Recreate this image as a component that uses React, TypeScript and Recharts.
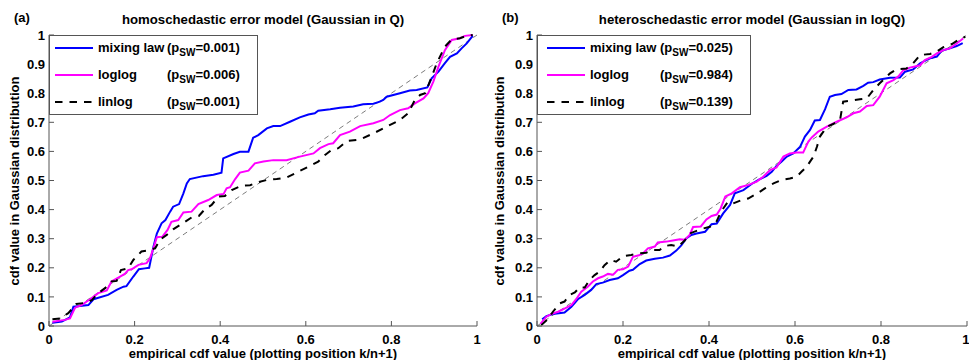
import React from "react";
import { LineChart, Line, XAxis, YAxis, ReferenceLine } from "recharts";

const FONT = '"Liberation Sans", Arial, sans-serif';
const AXIS = "#555";

const X_TICKS = [0, 0.2, 0.4, 0.6, 0.8, 1];
const Y_TICKS = [0, 0.1, 0.2, 0.3, 0.4, 0.5, 0.6, 0.7, 0.8, 0.9, 1];

const SERIES_NAMES = ["mixing law", "loglog", "linlog"];
const P_SW_A = ["0.001", "0.006", "0.001"];
const P_SW_B = ["0.025", "0.984", "0.139"];

// (a) homoschedastic: [empirical cdf, gaussian cdf]
const A_MIXING: [number, number][] = [
  [0.008, 0.011], [0.03, 0.015], [0.049, 0.03], [0.057, 0.066], [0.092, 0.072], [0.104, 0.092],
  [0.138, 0.107], [0.158, 0.124], [0.174, 0.135], [0.181, 0.137], [0.197, 0.17], [0.21, 0.195],
  [0.224, 0.198], [0.234, 0.2], [0.244, 0.272], [0.252, 0.318], [0.263, 0.353], [0.272, 0.364],
  [0.283, 0.393], [0.29, 0.41], [0.304, 0.419], [0.314, 0.456], [0.322, 0.49], [0.329, 0.505],
  [0.36, 0.515], [0.384, 0.52], [0.403, 0.527], [0.407, 0.576], [0.431, 0.591], [0.446, 0.599],
  [0.466, 0.599], [0.477, 0.647], [0.489, 0.656], [0.509, 0.679], [0.524, 0.687], [0.54, 0.687],
  [0.563, 0.702], [0.586, 0.717], [0.606, 0.727], [0.621, 0.731], [0.629, 0.74], [0.657, 0.745],
  [0.68, 0.75], [0.711, 0.754], [0.734, 0.762], [0.758, 0.764], [0.773, 0.771], [0.781, 0.777],
  [0.789, 0.788], [0.82, 0.8], [0.843, 0.809], [0.859, 0.811], [0.884, 0.82], [0.894, 0.851],
  [0.91, 0.874], [0.925, 0.903], [0.937, 0.925], [0.953, 0.937], [0.964, 0.954], [0.976, 0.971],
  [0.99, 0.997],
];
const A_LOGLOG: [number, number][] = [
  [0.008, 0.015], [0.037, 0.021], [0.049, 0.026], [0.061, 0.063], [0.076, 0.072], [0.096, 0.092],
  [0.115, 0.113], [0.135, 0.122], [0.146, 0.153], [0.166, 0.17], [0.177, 0.179], [0.185, 0.192],
  [0.193, 0.195], [0.209, 0.21], [0.228, 0.216], [0.236, 0.233], [0.244, 0.267], [0.252, 0.305],
  [0.265, 0.307], [0.277, 0.33], [0.286, 0.358], [0.302, 0.364], [0.314, 0.39], [0.333, 0.393],
  [0.349, 0.419], [0.372, 0.433], [0.392, 0.45], [0.408, 0.454], [0.415, 0.473], [0.423, 0.477],
  [0.435, 0.505], [0.446, 0.527], [0.466, 0.534], [0.481, 0.559], [0.501, 0.565], [0.524, 0.57],
  [0.555, 0.57], [0.586, 0.582], [0.618, 0.593], [0.633, 0.611], [0.653, 0.625], [0.664, 0.628],
  [0.68, 0.656], [0.703, 0.668], [0.727, 0.687], [0.758, 0.697], [0.781, 0.708], [0.797, 0.725],
  [0.82, 0.742], [0.839, 0.748], [0.855, 0.765], [0.875, 0.782], [0.886, 0.8], [0.898, 0.84],
  [0.91, 0.891], [0.925, 0.948], [0.941, 0.983], [0.96, 0.989], [0.972, 0.997], [0.99, 1.0],
];
const A_LINLOG: [number, number][] = [
  [0.008, 0.023], [0.026, 0.026], [0.045, 0.044], [0.064, 0.076], [0.088, 0.08], [0.1, 0.089],
  [0.115, 0.113], [0.131, 0.13], [0.146, 0.153], [0.158, 0.155], [0.168, 0.192], [0.185, 0.198],
  [0.197, 0.227], [0.216, 0.256], [0.228, 0.259], [0.248, 0.267], [0.259, 0.296], [0.275, 0.313],
  [0.29, 0.332], [0.318, 0.358], [0.333, 0.373], [0.35, 0.378], [0.364, 0.401], [0.38, 0.416],
  [0.396, 0.445], [0.411, 0.447], [0.427, 0.467], [0.45, 0.482], [0.47, 0.484], [0.489, 0.494],
  [0.509, 0.502], [0.532, 0.505], [0.555, 0.51], [0.582, 0.53], [0.61, 0.55], [0.629, 0.565],
  [0.645, 0.588], [0.66, 0.605], [0.676, 0.611], [0.696, 0.636], [0.727, 0.641], [0.758, 0.662],
  [0.789, 0.685], [0.82, 0.708], [0.839, 0.731], [0.855, 0.777], [0.867, 0.794], [0.879, 0.8],
  [0.894, 0.856], [0.906, 0.903], [0.925, 0.96], [0.941, 0.985], [0.96, 0.989], [0.976, 0.997],
  [0.99, 1.0],
];

// (b) heteroschedastic
const B_MIXING: [number, number][] = [
  [0.012, 0.023], [0.022, 0.034], [0.037, 0.041], [0.064, 0.046], [0.08, 0.066], [0.095, 0.092],
  [0.111, 0.107], [0.126, 0.124], [0.138, 0.144], [0.153, 0.149], [0.169, 0.158], [0.188, 0.164],
  [0.2, 0.175], [0.215, 0.19], [0.223, 0.193], [0.239, 0.213], [0.254, 0.225], [0.274, 0.231],
  [0.293, 0.235], [0.309, 0.242], [0.324, 0.259], [0.336, 0.278], [0.347, 0.301], [0.359, 0.313],
  [0.371, 0.318], [0.391, 0.324], [0.406, 0.35], [0.418, 0.352], [0.433, 0.387], [0.449, 0.416],
  [0.46, 0.456], [0.48, 0.467], [0.499, 0.488], [0.515, 0.502], [0.534, 0.516], [0.546, 0.53],
  [0.557, 0.55], [0.569, 0.565], [0.581, 0.582], [0.596, 0.593], [0.612, 0.616], [0.623, 0.651],
  [0.635, 0.674], [0.646, 0.706], [0.658, 0.708], [0.67, 0.745], [0.681, 0.788], [0.693, 0.794],
  [0.708, 0.797], [0.724, 0.811], [0.743, 0.813], [0.759, 0.825], [0.77, 0.836], [0.782, 0.838],
  [0.797, 0.847], [0.821, 0.853], [0.844, 0.854], [0.856, 0.874], [0.875, 0.882], [0.891, 0.903],
  [0.914, 0.92], [0.93, 0.926], [0.941, 0.946], [0.96, 0.954], [0.976, 0.962], [0.99, 0.972],
];
const B_LOGLOG: [number, number][] = [
  [0.008, 0.007], [0.022, 0.032], [0.033, 0.041], [0.049, 0.049], [0.064, 0.06], [0.08, 0.072],
  [0.091, 0.092], [0.103, 0.118], [0.118, 0.135], [0.13, 0.153], [0.142, 0.164], [0.153, 0.17],
  [0.165, 0.179], [0.177, 0.176], [0.188, 0.193], [0.2, 0.195], [0.212, 0.204], [0.223, 0.238],
  [0.237, 0.243], [0.247, 0.25], [0.258, 0.267], [0.274, 0.273], [0.281, 0.287], [0.301, 0.29],
  [0.316, 0.294], [0.332, 0.298], [0.343, 0.296], [0.355, 0.313], [0.363, 0.34], [0.381, 0.342],
  [0.394, 0.366], [0.406, 0.378], [0.418, 0.383], [0.427, 0.404], [0.438, 0.445], [0.453, 0.456],
  [0.472, 0.477], [0.492, 0.485], [0.511, 0.496], [0.526, 0.513], [0.542, 0.536], [0.557, 0.545],
  [0.573, 0.582], [0.588, 0.593], [0.604, 0.596], [0.619, 0.596], [0.631, 0.634], [0.639, 0.648],
  [0.654, 0.668], [0.674, 0.685], [0.697, 0.702], [0.72, 0.717], [0.736, 0.731], [0.751, 0.737],
  [0.767, 0.756], [0.782, 0.759], [0.797, 0.788], [0.813, 0.834], [0.829, 0.845], [0.84, 0.857],
  [0.852, 0.879], [0.867, 0.888], [0.891, 0.896], [0.902, 0.914], [0.918, 0.925], [0.93, 0.937],
  [0.945, 0.948], [0.96, 0.954], [0.976, 0.971], [0.991, 0.988],
];
const B_LINLOG: [number, number][] = [
  [0.01, 0.003], [0.025, 0.023], [0.037, 0.049], [0.053, 0.078], [0.064, 0.084], [0.076, 0.107],
  [0.088, 0.115], [0.099, 0.133], [0.111, 0.132], [0.122, 0.158], [0.134, 0.175], [0.146, 0.187],
  [0.157, 0.209], [0.171, 0.227], [0.184, 0.221], [0.2, 0.24], [0.219, 0.244], [0.237, 0.25],
  [0.254, 0.252], [0.27, 0.261], [0.285, 0.261], [0.297, 0.275], [0.312, 0.278], [0.328, 0.273],
  [0.343, 0.293], [0.355, 0.318], [0.371, 0.327], [0.386, 0.335], [0.402, 0.341], [0.417, 0.358],
  [0.428, 0.393], [0.444, 0.427], [0.456, 0.421], [0.471, 0.43], [0.491, 0.438], [0.515, 0.458],
  [0.53, 0.473], [0.55, 0.49], [0.569, 0.502], [0.588, 0.507], [0.604, 0.513], [0.615, 0.53],
  [0.627, 0.547], [0.635, 0.565], [0.643, 0.582], [0.651, 0.616], [0.658, 0.651], [0.666, 0.668],
  [0.674, 0.685], [0.689, 0.694], [0.705, 0.71], [0.712, 0.771], [0.728, 0.774], [0.751, 0.779],
  [0.767, 0.782], [0.782, 0.811], [0.797, 0.834], [0.821, 0.868], [0.836, 0.882], [0.859, 0.885],
  [0.875, 0.903], [0.891, 0.931], [0.914, 0.935], [0.93, 0.943], [0.945, 0.958], [0.965, 0.969],
  [0.98, 0.983], [0.996, 0.994],
];

const COLORS = ["#0000ff", "#ff00ff", "#000000"];
const DASHES = [undefined, undefined, "7.5 7"];

const toPoints = (pairs: [number, number][]) => pairs.map(([x, y]) => ({ x, y }));

const textStyle: React.CSSProperties = {
  position: "absolute",
  fontFamily: FONT,
  fontWeight: "bold",
  fontSize: 13,
  color: "#000",
  whiteSpace: "nowrap",
  lineHeight: 1,
};

type PanelProps = {
  left: number;
  width: number;
  plotLeft: number;
  plotRight: number;
  tag: string;
  title: string;
  series: [number, number][][];
  pvals: string[];
  legendWidth: number;
  legendText: number;
  legendP: number;
  sampleFrom: number;
};

function Panel(p: PanelProps) {
  const top = 35;
  const bottom = 326;
  const midX = (p.plotLeft + p.plotRight) / 2;
  const tickStyle = { fill: "#000", fontSize: 13, fontWeight: "bold", fontFamily: FONT };
  return (
    <div style={{ position: "absolute", left: p.left, top: 0, width: p.width, height: 360 }}>
      <LineChart
        width={p.width}
        height={360}
        margin={{ top, right: p.width - p.plotRight, left: 0, bottom: 0 }}
      >
        <XAxis
          xAxisId="b"
          dataKey="x"
          type="number"
          domain={[0, 1]}
          ticks={X_TICKS}
          height={360 - bottom}
          tickSize={-5}
          tickMargin={14}
          stroke={AXIS}
          tick={tickStyle}
          allowDuplicatedCategory={false}
        />
        <XAxis xAxisId="t" orientation="top" type="number" domain={[0, 1]} ticks={X_TICKS} height={0} tickSize={-5} stroke={AXIS} tick={false} />
        <YAxis
          yAxisId="l"
          type="number"
          domain={[0, 1]}
          ticks={Y_TICKS}
          width={p.plotLeft}
          tickSize={-5}
          tickMargin={9}
          stroke={AXIS}
          tick={tickStyle}
        />
        <YAxis yAxisId="r" orientation="right" type="number" domain={[0, 1]} ticks={Y_TICKS} width={0} tickSize={-5} stroke={AXIS} tick={false} />
        <ReferenceLine
          xAxisId="b"
          yAxisId="l"
          segment={[{ x: 0, y: 0 }, { x: 1, y: 1 }]}
          stroke="#444"
          strokeWidth={0.7}
          strokeDasharray="5 4"
        />
        {p.series.map((s, i) => (
          <Line
            key={i}
            xAxisId="b"
            yAxisId="l"
            data={toPoints(s)}
            dataKey="y"
            type="linear"
            stroke={COLORS[i]}
            strokeWidth={2}
            strokeDasharray={DASHES[i]}
            dot={false}
            isAnimationActive={false}
          />
        ))}
      </LineChart>

      <div style={{ ...textStyle, left: p.plotLeft - 35, top: 11 }}>{p.tag}</div>
      <div style={{ ...textStyle, fontSize: 13.2, left: midX, top: 13.3, transform: "translateX(-50%)" }}>{p.title}</div>
      <div style={{ ...textStyle, left: midX, top: 347, transform: "translateX(-50%)" }}>
        empirical cdf value (plotting position k/n+1)
      </div>
      <div
        style={{
          ...textStyle,
          left: 14,
          top: (top + bottom) / 2,
          transform: "translate(-50%, -50%) rotate(-90deg)",
        }}
      >
        cdf value in Gaussian distribution
      </div>

      <div
        style={{
          position: "absolute",
          left: p.plotLeft,
          top,
          width: p.legendWidth,
          height: 80,
          border: `1px solid ${AXIS}`,
          background: "#fff",
          boxSizing: "border-box",
        }}
      >
        {SERIES_NAMES.map((name, i) => {
          const cy = 12 + i * 27;
          return (
            <React.Fragment key={name}>
              <svg style={{ position: "absolute", left: p.sampleFrom, top: cy - 3 }} width={38} height={6}>
                <line x1={0} y1={3} x2={38} y2={3} stroke={COLORS[i]} strokeWidth={2} strokeDasharray={DASHES[i]} />
              </svg>
              <div style={{ ...textStyle, left: p.legendText, top: cy - 7 }}>{name}</div>
              <div style={{ ...textStyle, left: p.legendP, top: cy - 7 }}>
                (p<sub style={{ fontSize: 10, verticalAlign: "-4px", lineHeight: 0 }}>SW</sub>={p.pvals[i]})
              </div>
            </React.Fragment>
          );
        })}
      </div>
    </div>
  );
}

export default function App() {
  return (
    <div style={{ position: "absolute", left: 0, top: 0, width: 969, height: 360, background: "#fff", overflow: "hidden" }}>
      <Panel
        left={0}
        width={485}
        plotLeft={49}
        plotRight={477}
        tag="(a)"
        title="homoschedastic error model (Gaussian in Q)"
        series={[A_MIXING, A_LOGLOG, A_LINLOG]}
        pvals={P_SW_A}
        legendWidth={209}
        legendText={48}
        legendP={117}
        sampleFrom={5}
      />
      <Panel
        left={485}
        width={484}
        plotLeft={52}
        plotRight={482}
        tag="(b)"
        title="heteroschedastic error model (Gaussian in logQ)"
        series={[B_MIXING, B_LOGLOG, B_LINLOG]}
        pvals={P_SW_B}
        legendWidth={214}
        legendText={52}
        legendP={122}
        sampleFrom={9}
      />
    </div>
  );
}
